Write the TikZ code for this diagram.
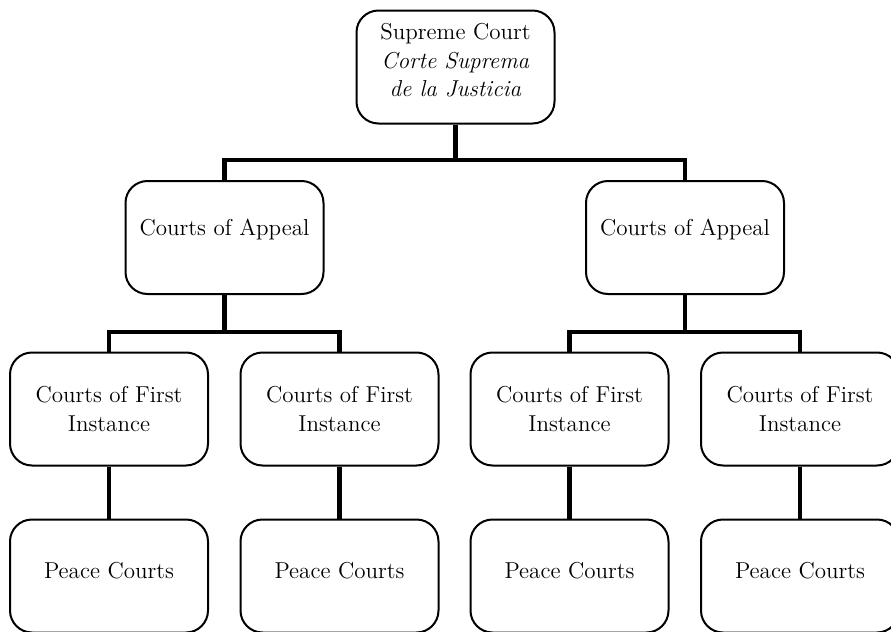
\documentclass[tikz,border=0pt]{standalone}
\usetikzlibrary{positioning}

\tikzset{
    court/.style = {draw, line width = 1pt, rounded corners = 11pt, align = center,
        minimum width = 99pt, minimum height = 56.5pt, inner sep = 2pt,
        font = \fontsize{11.5}{14.2}\selectfont},
    raised/.style = {text depth = #1},
    link/.style = {line width = 2.2pt}
}

\begin{document}
\begin{tikzpicture}[x = 0.5pt, y = -0.5pt]
            \useasboundingbox (0, 0) rectangle (891, 632);
            % top
            \node[court, raised = 7pt] (sc) at (455.5, 67) {Supreme Court\\ \textit{Corte Suprema}\\ \textit{de la Justicia}};
            % appeal
            \node[court, raised = 10pt] (ca1) at (224.5, 237.5) {Courts of Appeal};
            \node[court, raised = 10pt] (ca2) at (685, 237.5) {Courts of Appeal};
            % first instance
            \node[court] (fi1) at (109, 409) {Courts of First\\ Instance};
            \node[court] (fi2) at (339.5, 409) {Courts of First\\ Instance};
            \node[court] (fi3) at (569.5, 409) {Courts of First\\ Instance};
            \node[court] (fi4) at (800, 409) {Courts of First\\ Instance};
            % peace
            \node[court, raised = 6pt] (pc1) at (109, 576) {Peace Courts};
            \node[court, raised = 6pt] (pc2) at (339.5, 576) {Peace Courts};
            \node[court, raised = 6pt] (pc3) at (569.5, 576) {Peace Courts};
            \node[court, raised = 6pt] (pc4) at (800, 576) {Peace Courts};
            % bus lines
            \coordinate (bus0) at (455.5, 160);
            \coordinate (bus1) at (224.5, 332);
            \coordinate (bus2) at (685, 332);
            \draw[link] (sc) -- (bus0);
            \draw[link] (ca1.north) |- (bus0) -| (ca2.north);
            \draw[link] (ca1) -- (bus1);
            \draw[link] (fi1.north) |- (bus1) -| (fi2.north);
            \draw[link] (ca2) -- (bus2);
            \draw[link] (fi3.north) |- (bus2) -| (fi4.north);
            \draw[link] (fi1) -- (pc1);
            \draw[link] (fi2) -- (pc2);
            \draw[link] (fi3) -- (pc3);
            \draw[link] (fi4) -- (pc4);
        \end{tikzpicture}
\end{document}
